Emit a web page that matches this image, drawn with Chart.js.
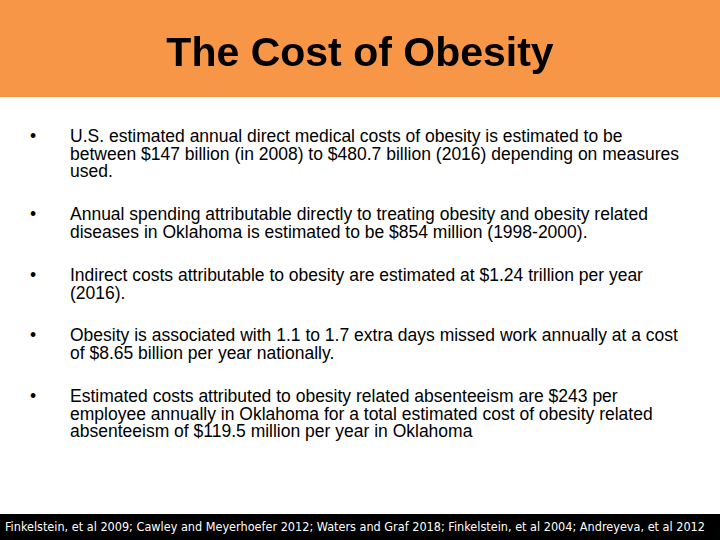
<!DOCTYPE html>
<html><head><meta charset="utf-8">
<script src="https://cdn.jsdelivr.net/npm/chart.js@4"></script>
<style>
body{margin:0;width:720px;height:540px;background:#fff;font-family:"Liberation Sans",Arial,sans-serif;position:relative;overflow:hidden}
#hdr{position:absolute;left:0;top:0;width:720px;height:97px;background:#F79646}
#c{position:absolute;left:0;top:0}
.b{position:absolute;left:30px;width:650px;font-size:17.5px;line-height:17.5px;color:#000}
.b span.d{position:absolute;left:0}
.b div{margin-left:40px}
#ftbar{position:absolute;left:0;top:514px;width:720px;height:26px;background:#000}
#ft{position:absolute;left:5px;top:514px;color:#fff;font-family:"DejaVu Sans Condensed","Liberation Sans Narrow",sans-serif;font-size:13px;line-height:26px;white-space:nowrap;transform-origin:0 50%}
</style></head><body>
<div id="hdr"></div>
<canvas id="c" width="720" height="97"></canvas>
<div id="bl"></div>
<div id="ftbar"></div>
<div id="ft"></div>
<script>
const titleText = "The Cost of Obesity";
const bullets = [
 "U.S. estimated annual direct medical costs of obesity is estimated to be between $147 billion (in 2008) to $480.7 billion (2016) depending on measures used.",
 "Annual spending attributable directly to treating obesity and obesity related diseases in Oklahoma is estimated to be $854 million (1998-2000).",
 "Indirect costs attributable to obesity are estimated at $1.24 trillion per year (2016).",
 "Obesity is associated with 1.1 to 1.7 extra days missed work annually at a cost of $8.65 billion per year nationally.",
 "Estimated costs attributed to obesity related absenteeism are $243 per employee annually in Oklahoma for a total estimated cost of obesity related absenteeism of $119.5 million per year in Oklahoma"
];
const bulletTops = [128, 206, 267, 327, 388];
const footer = "Finkelstein, et al 2009; Cawley and Meyerhoefer 2012; Waters and Graf 2018; Finkelstein, et al 2004; Andreyeva, et al 2012";
const bl = document.getElementById('bl');
bullets.forEach((t,i)=>{
 const d=document.createElement('div');d.className='b';d.style.top=bulletTops[i]+'px';
 d.innerHTML='<span class="d">•</span><div>'+t+'</div>';bl.appendChild(d);
});
const ft=document.getElementById('ft');ft.textContent=footer;
ft.style.transform='scaleX('+(700/ft.offsetWidth)+')';
new Chart(document.getElementById('c'),{type:'bar',data:{labels:[],datasets:[]},
 options:{responsive:false,animation:false,layout:{padding:{top:20}},
  scales:{x:{display:false},y:{display:false}},
  plugins:{legend:{display:false},tooltip:{enabled:false},
   title:{display:true,text:titleText,color:'#000',font:{family:'Liberation Sans',size:41,weight:'bold'}}}}});
</script>
</body></html>
